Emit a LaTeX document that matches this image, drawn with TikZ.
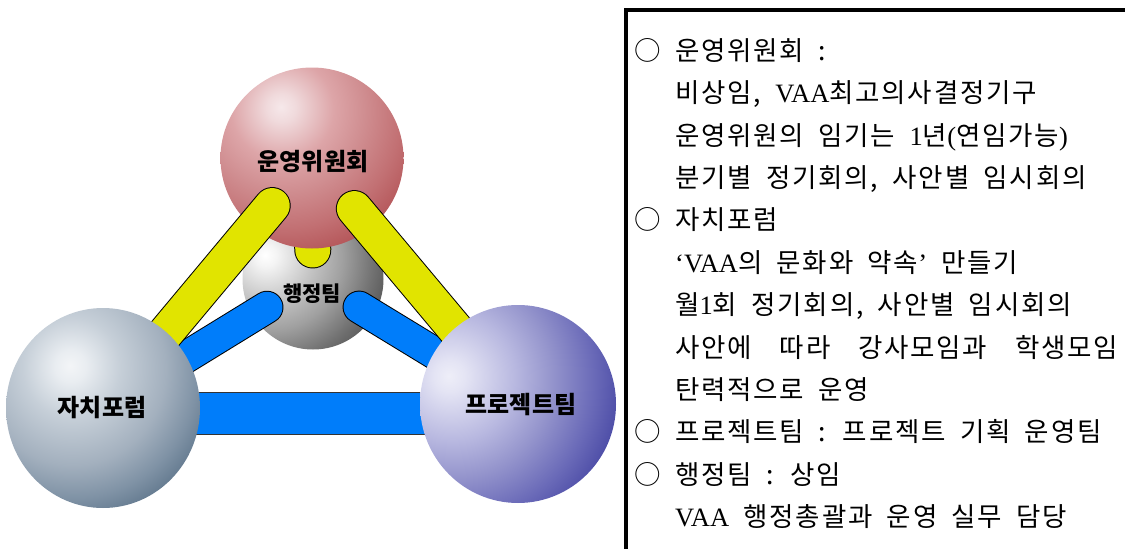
\documentclass[tikz,border=0pt]{standalone}
\usepackage{fontspec}
\setmainfont{Noto Sans CJK KR}
\newfontfamily\paneltext{Noto Sans CJK KR}[LetterSpace=6.8]
\newfontfamily\serifpart{Liberation Serif}
\usetikzlibrary{calc,shapes.geometric}

% sphere colours
\definecolor{rbA}{HTML}{F6E8EA}\definecolor{rbB}{HTML}{F0DADC}\definecolor{rbC}{HTML}{DDA5A8}\definecolor{rbD}{HTML}{D08E91}\definecolor{rbE}{HTML}{C27073}\definecolor{rbF}{HTML}{B45558}\definecolor{rbG}{HTML}{A53638}
\definecolor{gbA}{HTML}{FFFFFF}\definecolor{gbB}{HTML}{F4F4F4}\definecolor{gbC}{HTML}{C4C4C4}\definecolor{gbD}{HTML}{A0A0A0}\definecolor{gbE}{HTML}{737373}\definecolor{gbF}{HTML}{4E4E4E}\definecolor{gbG}{HTML}{383838}
\definecolor{sbA}{HTML}{F3F5F7}\definecolor{sbB}{HTML}{E9EDF1}\definecolor{sbC}{HTML}{C6CFD8}\definecolor{sbD}{HTML}{A3B0BE}\definecolor{sbE}{HTML}{7F92A5}\definecolor{sbF}{HTML}{5C7389}\definecolor{sbG}{HTML}{34506B}
\definecolor{bbA}{HTML}{EEEEF8}\definecolor{bbB}{HTML}{E4E4F4}\definecolor{bbC}{HTML}{B8B8E0}\definecolor{bbD}{HTML}{9494CC}\definecolor{bbE}{HTML}{6A6AB8}\definecolor{bbF}{HTML}{4848A4}\definecolor{bbG}{HTML}{2C2C92}
\definecolor{tubeyellow}{RGB}{225,228,0}
\definecolor{tubeblue}{RGB}{0,125,250}

% highlight offset to the upper left; the far outer stop keeps the rings
% almost concentric around the highlight (sphere rim sits near 35bp)
\pgfdeclareradialshading{redball}{\pgfpoint{-8.5bp}{14.1bp}}{color(0bp)=(rbA); color(4bp)=(rbB); color(14bp)=(rbC); color(22bp)=(rbD); color(32bp)=(rbE); color(40bp)=(rbF); color(47bp)=(rbG); color(300bp)=(rbG)}
\pgfdeclareradialshading{grayball}{\pgfpoint{-17bp}{8.5bp}}{color(0bp)=(gbA); color(4bp)=(gbB); color(16bp)=(gbC); color(26bp)=(gbD); color(36bp)=(gbE); color(45bp)=(gbF); color(51bp)=(gbG); color(300bp)=(gbG)}
\pgfdeclareradialshading{slateball}{\pgfpoint{-8.5bp}{10.6bp}}{color(0bp)=(sbA); color(4bp)=(sbB); color(12.5bp)=(sbC); color(24bp)=(sbD); color(32bp)=(sbE); color(39bp)=(sbF); color(45bp)=(sbG); color(300bp)=(sbG)}
\pgfdeclareradialshading{blueball}{\pgfpoint{-17.7bp}{7.1bp}}{color(0bp)=(bbA); color(4bp)=(bbB); color(16bp)=(bbC); color(25bp)=(bbD); color(35bp)=(bbE); color(43bp)=(bbF); color(50bp)=(bbG); color(300bp)=(bbG)}

\newcommand{\bul}{\makebox[41pt][l]{○}}
% panel text: slightly tracked Hangul with fixed word spaces
\newcommand{\panelfont}{\paneltext\fontsize{26.5}{30}\selectfont\spaceskip 14.3pt plus 1fil\relax}

\tikzset{
  sphere/.style={ellipse, inner sep=0pt, draw=none},
  sphlabel/.style={inner sep=0pt, font=\fontsize{24}{24}\selectfont\bfseries},
  yedge/.style={line width=37pt, draw=black, line cap=round},
  yfill/.style={line width=35pt, draw=tubeyellow, line cap=round},
  bedge/.style={line width=33pt, draw=black, line cap=round},
  bfill/.style={line width=31pt, draw=tubeblue, line cap=round},
  textline/.style={anchor=base west, inner sep=0pt, font=\panelfont},
}

\begin{document}
\begin{tikzpicture}[x=1pt,y=-1pt]
\useasboundingbox (0,0) rectangle (1125,549);
\clip (0,0) rectangle (1125,549);

% administration team sphere (back)
\node[sphere, minimum width=141pt, minimum height=141pt, shading=grayball] (hj) at (313,279) {};

% positions of the four spheres
\coordinate (rwc) at (312,158);
\coordinate (jcc) at (103,408);
\coordinate (pjc) at (518,404);

% short vertical link from the committee down to the admin team
\coordinate (st1) at (rwc);
\coordinate (st2) at ($(rwc)!92pt!(hj.center)$);
\draw[yedge] (st1) -- (st2);
\draw[yfill] (st1) -- (st2);

% steering committee sphere
\node[sphere, minimum width=183pt, minimum height=181pt, shading=redball] (rw) at (rwc) {};

% blue links: admin team to the two lower spheres, and the base bar
\coordinate (bl1) at ($(hj.center)!54pt!(jcc)$);
\coordinate (bl2) at ($(hj.center)!0.8!(jcc)$);
\coordinate (br1) at ($(hj.center)!54pt!(pjc)$);
\coordinate (br2) at ($(hj.center)!0.8!(pjc)$);
\draw[bedge] (bl1) -- (bl2);
\draw[bfill] (bl1) -- (bl2);
\draw[bedge] (br1) -- (br2);
\draw[bfill] (br1) -- (br2);
\coordinate (barL) at (103,413.5);
\coordinate (barR) at (518,413.5);
\draw[line width=43pt, draw=black!80] (barL) -- (barR);
\draw[line width=41pt, draw=tubeblue] (barL) -- (barR);

% yellow links: committee to the two lower spheres
\coordinate (yl1) at ($(rw.center)!62pt!(jcc)$);
\coordinate (yl2) at ($(rw.center)!0.8!(jcc)$);
\coordinate (yr1) at ($(rw.center)!66pt!(pjc)$);
\coordinate (yr2) at ($(rw.center)!0.8!(pjc)$);
\draw[yedge] (yl1) -- (yl2);
\draw[yfill] (yl1) -- (yl2);
\draw[yedge] (yr1) -- (yr2);
\draw[yfill] (yr1) -- (yr2);

% front spheres
\node[sphere, minimum width=194pt, minimum height=200pt, shading=slateball] (jc) at (jcc) {};
\node[sphere, minimum width=196pt, minimum height=198pt, shading=blueball] (pj) at (pjc) {};

% sphere labels
\node[sphlabel] (rwt) at (313,162) {운영위원회};
\node[sphlabel, font=\fontsize{21}{21}\selectfont\bfseries] (hjt) at (312,294) {행정팀};
\node[sphlabel] (jct) at (102,408) {자치포럼};
\node[sphlabel] (pjt) at (521,405) {프로젝트팀};

% description panel
\draw[line width=4pt] (626,10) rectangle (1145,570);
\node[textline] (t1)  at (634, 60.2) {\bul 운영위원회 :};
\node[textline] (t2)  at (675,102.6) {비상임, {\serifpart VAA}최고의사결정기구};
\node[textline] (t3)  at (675,145.0) {운영위원의 임기는 {\serifpart 1}년{\serifpart (}연임가능{\serifpart )}};
\node[textline] (t4)  at (675,187.4) {분기별 정기회의, 사안별 임시회의};
\node[textline] (t5)  at (634,229.8) {\bul 자치포럼};
\node[textline] (t6)  at (675,272.2) {{\serifpart ‘VAA}의 문화와 약속{\serifpart ’} 만들기};
\node[textline] (t7)  at (675,314.6) {월{\serifpart 1}회 정기회의, 사안별 임시회의};
\node[textline] (t8)  at (675,357.0) {\makebox[443pt][s]{사안에 따라 강사모임과 학생모임}};
\node[textline] (t9)  at (675,399.4) {탄력적으로 운영};
\node[textline] (t10) at (634,441.8) {\bul 프로젝트팀 : 프로젝트 기획 운영팀};
\node[textline] (t11) at (634,484.2) {\bul 행정팀 : 상임};
\node[textline] (t12) at (675,526.6) {{\serifpart VAA} 행정총괄과 운영 실무 담당};
\end{tikzpicture}
\end{document}
